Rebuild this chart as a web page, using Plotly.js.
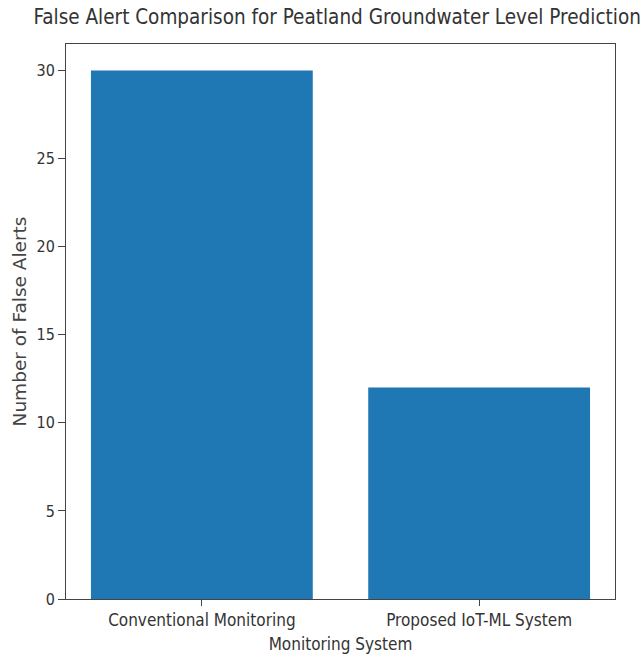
<!DOCTYPE html>
<html>
<head>
<meta charset="utf-8">
<script src="https://cdn.plot.ly/plotly-3.0.1.min.js"></script>
<style>html,body{margin:0;padding:0;background:#fff;}</style>
</head>
<body>
<div id="chart" style="width:643px;height:660px;"></div>
<script>
const categories = ["Conventional Monitoring", "Proposed IoT-ML System"];
const falseAlerts = [30, 12];
const yTicks = [0, 5, 10, 15, 20, 25, 30];

const FONT = "DejaVu Sans Condensed, DejaVu Sans, sans-serif";
const FONT_WIDE = "DejaVu Sans, sans-serif";

const trace = {
  type: "bar",
  x: categories,
  y: falseAlerts,
  marker: {color: "#1f77b4"},
  width: 0.8,
  hoverinfo: "x+y"
};

const layout = {
  width: 643,
  height: 660,
  margin: {l: 66, r: 28, t: 44, b: 61},
  paper_bgcolor: "#fff",
  plot_bgcolor: "#fff",
  showlegend: false,
  font: {family: FONT, color: "#333", size: 16},
  title: {
    text: "False Alert Comparison for Peatland Groundwater Level Prediction",
    font: {family: FONT, size: 20.5, color: "#333"},
    x: 0.494, xref: "paper", xanchor: "center",
    y: 1, yref: "container", yanchor: "top", pad: {t: 10}
  },
  xaxis: {
    type: "category",
    range: [-0.49, 1.49],
    showline: true, mirror: true, linecolor: "#444", linewidth: 1,
    ticks: "outside", ticklen: 6, tickcolor: "#444",
    showgrid: false, zeroline: false,
    tickfont: {family: FONT, size: 17, color: "#333"},
    title: {text: "Monitoring System", font: {family: FONT, size: 17, color: "#333"}, standoff: 8}
  },
  yaxis: {
    range: [0, 31.5],
    tickvals: yTicks,
    ticktext: yTicks.map(String),
    showline: true, mirror: true, linecolor: "#444", linewidth: 1,
    ticks: "outside", ticklen: 7, tickcolor: "#444",
    showgrid: false, zeroline: false,
    tickfont: {family: FONT, size: 16, color: "#333"},
    title: {text: "Number of False Alerts", font: {family: FONT_WIDE, size: 18.5, color: "#444"}, standoff: 5}
  }
};

Plotly.newPlot("chart", [trace], layout, {displayModeBar: false, staticPlot: true});
</script>
</body>
</html>
